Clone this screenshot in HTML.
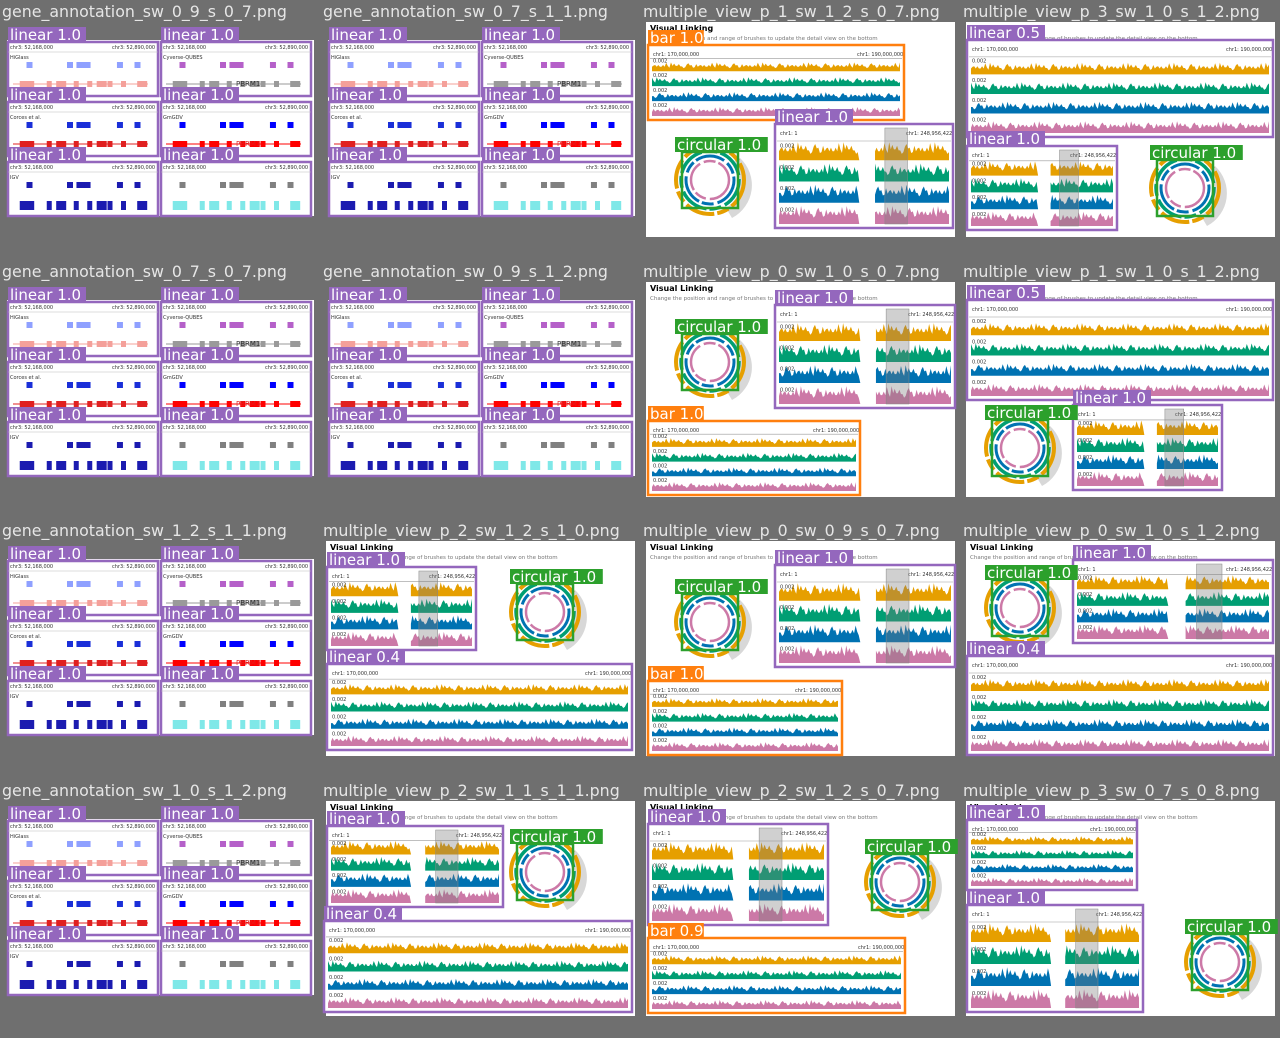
<!DOCTYPE html>
<html><head><meta charset="utf-8">
<style>
html,body{margin:0;padding:0;background:#6f6f6f;}
svg{display:block;}
text{font-family:"DejaVu Sans","Liberation Sans",sans-serif;}
</style></head>
<body>
<svg id="root" width="1280" height="1038" xmlns="http://www.w3.org/2000/svg"></svg>
<script>
// ---- data ----
const colX = [0, 321, 641, 961];
const rowY = [0, 260, 519, 779];
const tileTitles = [
 ["gene_annotation_sw_0_9_s_0_7.png","gene_annotation_sw_0_7_s_1_1.png","multiple_view_p_1_sw_1_2_s_0_7.png","multiple_view_p_3_sw_1_0_s_1_2.png"],
 ["gene_annotation_sw_0_7_s_0_7.png","gene_annotation_sw_0_9_s_1_2.png","multiple_view_p_0_sw_1_0_s_0_7.png","multiple_view_p_1_sw_1_0_s_1_2.png"],
 ["gene_annotation_sw_1_2_s_1_1.png","multiple_view_p_2_sw_1_2_s_1_0.png","multiple_view_p_0_sw_0_9_s_0_7.png","multiple_view_p_0_sw_1_0_s_1_2.png"],
 ["gene_annotation_sw_1_0_s_1_2.png","multiple_view_p_2_sw_1_1_s_1_1.png","multiple_view_p_2_sw_1_2_s_0_7.png","multiple_view_p_3_sw_0_7_s_0_8.png"]
];
const trackColors = ["#e69f00","#009e73","#0072b2","#cc79a7"];
const heightSeq = [0.5,0.7,0.45,0.8,0.6,0.95,0.5,0.65,0.4,0.75,0.55,0.85,0.6,0.5,0.7,0.45,0.9,0.55,0.6,0.4,0.7,0.5,0.8,0.65,0.35,0.6,1.0,0.5,0.7];
const mvTiles = [
 [0,2,[["bar",648,45,256,75,"bar 1.0"],["linear-detail",775,124,178,104,"linear 1.0"],["circular",710,180,"circular 1.0"]]],
 [0,3,[["linear",967,40,306,97,"linear 0.5"],["linear-detail",967,146,150,84,"linear 1.0"],["circular",1185,188,"circular 1.0"]]],
 [1,2,[["linear-detail",775,305,180,103,"linear 1.0"],["circular",710,362,"circular 1.0"],["bar",648,421,212,74,"bar 1.0"]]],
 [1,3,[["linear",967,300,306,100,"linear 0.5"],["circular",1020,448,"circular 1.0"],["linear-detail",1073,405,149,85,"linear 1.0"]]],
 [2,1,[["linear-detail",327,567,149,83,"linear 1.0"],["circular",545,612,"circular 1.0"],["linear",327,664,305,86,"linear 0.4"]]],
 [2,2,[["linear-detail",775,565,180,102,"linear 1.0"],["circular",710,622,"circular 1.0"],["bar",648,681,194,74,"bar 1.0"]]],
 [2,3,[["circular",1020,608,"circular 1.0"],["linear-detail",1073,560,200,83,"linear 1.0"],["linear",967,656,306,99,"linear 0.4"]]],
 [3,1,[["linear-detail",327,826,176,81,"linear 1.0"],["circular",545,872,"circular 1.0"],["linear",324,921,308,91,"linear 0.4"]]],
 [3,2,[["linear-detail",648,824,180,101,"linear 1.0"],["circular",900,882,"circular 1.0"],["bar",648,938,257,75,"bar 0.9"]]],
 [3,3,[["linear",967,820,170,70,"linear 1.0"],["linear-detail",967,905,176,107,"linear 1.0"],["circular",1220,962,"circular 1.0"]]]
];
const geneTiles = [[0,0],[0,1],[1,0],[1,1],[2,0],[3,0]];
const genePanelNames = ["HiGlass","Cyverse-QUBES","Corces et al.","GmGDV","IGV",""];
const genePanelColors = [["#8fa0ff","#f4a09a"],["#b560c9","#9a9a9a"],["#1a2fd8","#e02020"],["#0000ff","#ff0000"],["#1b1bb0","#1b1bb0"],["#808080","#7fe8e8"]];
const geneTop = [0.1,0.4,0.47,0.53,0.77,0.9];
const geneBot = [0.05,0.12,0.25,0.32,0.45,0.55,0.62,0.7,0.8,0.92];

const NS="http://www.w3.org/2000/svg";
const root=document.getElementById('root');
function mk(tag,attrs,parent){const e=document.createElementNS(NS,tag);for(const k in attrs)e.setAttribute(k,attrs[k]);(parent||root).appendChild(e);return e;}
const labelColor={linear:"#9467bd","linear-detail":"#9467bd",bar:"#ff7f0e",circular:"#2ca02c"};

function label(x,y,txt,col,name){
  const w=txt.length*7.4+4;
  const r=mk('rect',{x:x,y:y-15,width:w,height:15,fill:col});
  
  
  const t=mk('text',{x:x+2,y:y-2,fill:"#fff","font-size":15,"font-family":"Liberation Sans, sans-serif"});
  t.textContent=txt;
  
  
}

function tracks(g,x,y,w,h,detail){
  const head=Math.min(15,h*0.16);
  mk('text',{x:x+3,y:y+9,"font-size":5,fill:"#333"},g).textContent=detail?"chr1: 1":"chr1: 170,000,000";
  mk('text',{x:x+w-45,y:y+9,"font-size":5,fill:"#333"},g).textContent=detail?"chr1: 248,956,422":"chr1: 190,000,000";
  mk('line',{x1:x,y1:y+head,x2:x+w,y2:y+head,stroke:"#999","stroke-width":0.6},g);
  const bh=(h-head)/4;
  trackColors.forEach((c,i)=>{
    const by=y+head+bh*(i+1)-2;
    const n=Math.max(30,Math.floor(w/1.6));
    let d="";
    let open=false;
    for(let k=0;k<=n;k++){
      const fx=k/n;
      const px=x+2+fx*(w-4);
      const gap=detail&&fx>0.47&&fx<0.56;
      const hh=heightSeq[(k*7+i*5)%heightSeq.length]*bh*(detail?0.85:0.6);
      if(gap){if(open){d+=`L${px} ${by}Z`;open=false;}continue;}
      if(!open){d+=`M${px} ${by}`;open=true;}
      d+=`L${px} ${by-hh}`;
    }
    if(open)d+=`L${x+w-2} ${by}Z`;
    const p=mk('path',{d:d,fill:c},g);
    
    
    mk('text',{x:x+3,y:by-bh*0.6,"font-size":5,fill:"#333"},g).textContent="0.002";
  });
  if(detail){
    const br=mk('rect',{x:x+w*0.62,y:y+2,width:w*0.13,height:h-4,fill:"rgba(120,120,120,0.35)",stroke:"#888","stroke-width":0.5},g);
    
    
  }
}

function circular(g,cx,cy){
  const rings=[[34,"#e69f00",4],[29,"#009e73",3.5],[24,"#0072b2",3],[19,"#cc79a7",2.5]];
  mk('path',{d:`M${cx+30} ${cy-22} A37 37 0 0 1 ${cx+22} ${cy+38} L${cx+16} ${cy+28} A30 30 0 0 0 ${cx+22} ${cy-18}Z`,fill:"#d8d8d8"},g);
  rings.forEach(r=>{mk('circle',{cx:cx,cy:cy,r:r[0],fill:"none",stroke:r[1],"stroke-width":r[2],"stroke-dasharray":"30 4 12 3"},g);});
  const b=mk('rect',{x:cx-28,y:cy-28,width:56,height:56,fill:"none",stroke:"#2ca02c","stroke-width":2.5},g);
  
  
}

for(let r=0;r<4;r++)for(let c=0;c<4;c++){
  const t=mk('text',{x:colX[c]+2,y:rowY[r]+17,"font-size":15.8,fill:"#e6e6e6"});
  t.textContent=tileTitles[r][c];
  
  
}

geneTiles.forEach(([r,c])=>{
  const ox=colX[c],oy=rowY[r];
  const g=mk('g',{});
  
  
  mk('rect',{x:ox+7,y:oy+40,width:307,height:176,fill:"#ffffff"},g);
  const px=[8,161],py=[42,102,162];
  let idx=0;
  for(let rr=0;rr<3;rr++)for(let cc=0;cc<2;cc++){
    const x=ox+px[cc],y=oy+py[rr],w=150,h=54;
    const cols=genePanelColors[idx];
    const pg=mk('g',{},g);
    
    
    mk('rect',{x:x,y:y,width:w,height:h,fill:"#fff",stroke:"#9467bd","stroke-width":2.5},pg);
    mk('text',{x:x+2,y:y+7,"font-size":5,fill:"#333"},pg).textContent="chr3: 52,168,000";
    mk('text',{x:x+w-46,y:y+7,"font-size":5,fill:"#333"},pg).textContent="chr3: 52,890,000";
    mk('line',{x1:x,y1:y+10,x2:x+w,y2:y+10,stroke:"#bbb","stroke-width":0.5},pg);
    mk('text',{x:x+2,y:y+17,"font-size":5,fill:"#333"},pg).textContent=genePanelNames[idx];
    geneTop.forEach((f,k)=>{mk('rect',{x:x+5+f*(w-15),y:y+20,width:k==2?14:6,height:6,fill:cols[0]},pg);});
    if(idx!==5&&idx!==4) mk('line',{x1:x+5,y1:y+42,x2:x+w-10,y2:y+42,stroke:cols[1],"stroke-width":1},pg);
    geneBot.forEach((f,k)=>{mk('rect',{x:x+5+f*(w-15),y:y+39,width:(k%3==0)?10:5,height:(idx>=4?9:6),fill:cols[1]},pg);});
    if(idx===1||idx===3) mk('text',{x:x+75,y:y+44,"font-size":7,fill:idx===1?"#333":"#e02020"},pg).textContent="PBRM1";
    label(x,y,"linear 1.0","#9467bd","linear");
    idx++;
  }
});

mvTiles.forEach(([r,c,views])=>{
  const ox=colX[c],oy=rowY[r];
  const g=mk('g',{});
  
  
  mk('rect',{x:ox+5,y:oy+22,width:309,height:215,fill:"#ffffff"},g);
  mk('text',{x:ox+9,y:oy+31,"font-size":8,"font-weight":"bold",fill:"#000"},g).textContent="Visual Linking";
  mk('text',{x:ox+9,y:oy+40,"font-size":5.5,fill:"#777"},g).textContent="Change the position and range of brushes to update the detail view on the bottom";
  views.forEach(v=>{
    const kind=v[0];
    const vg=mk('g',{},g);
    
    
    if(kind==="circular"){
      circular(vg,v[1],v[2]);
      label(v[1]-35,v[2]-28,v[3],labelColor[kind],'circular');
    } else {
      const [_,x,y,w,h,lab]=v;
      mk('rect',{x:x,y:y,width:w,height:h,fill:"#fff"},vg);
      tracks(vg,x+2,y+2,w-4,h-4,kind==="linear-detail");
      mk('rect',{x:x,y:y,width:w,height:h,fill:"none",stroke:labelColor[kind],"stroke-width":2.5},vg);
      label(x,y,lab,labelColor[kind],kind);
    }
  });
});
</script>
</body></html>
